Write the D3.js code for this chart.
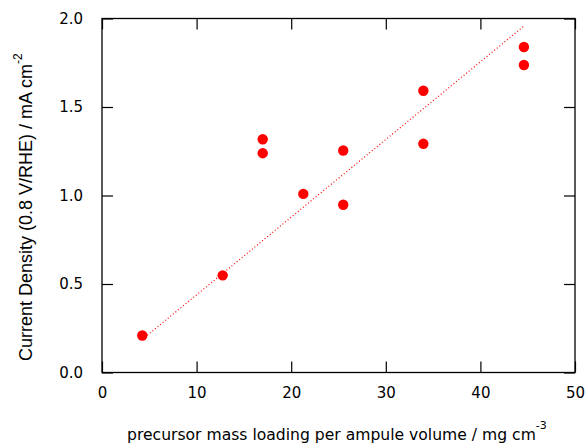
<!DOCTYPE html>
<html lang="en">
<head>
  <meta charset="utf-8">
  <title>Current density vs precursor loading</title>
  <script src="https://d3js.org/d3.v7.min.js"></script>
  <style>
    body { margin: 0; background: #fff; }
    .tick text { font-family: "DejaVu Sans", sans-serif; font-size: 15px; fill: #000; }
  </style>
</head>
<body>
  <div id="chart"></div>
  <script>
    // data
    var loading = [4.26, 12.76, 16.99, 16.99, 21.28, 25.5, 25.5, 33.97, 33.97, 44.6, 44.6];
    var density = [0.209, 0.549, 1.318, 1.239, 1.009, 1.254, 0.948, 1.592, 1.292, 1.839, 1.737];

    // linear fit, end points
    var fitX = [4.26, 44.6];
    var fitY = [0.187, 1.957];

    var xTicks = [0, 10, 20, 30, 40, 50];
    var yTicks = [0.0, 0.5, 1.0, 1.5, 2.0];

    var w = 588, h = 443;
    var margin = { top: 18.5, right: 13, bottom: 70.5, left: 102 };

    var svg = d3.select("#chart").append("svg")
      .attr("width", w)
      .attr("height", h);

    var x = d3.scaleLinear().domain([0, 50]).range([margin.left, w - margin.right]);
    var y = d3.scaleLinear().domain([0, 2]).range([h - margin.bottom, margin.top]);

    // axes, ticks pointing inward on all four sides
    svg.append("g")
      .attr("transform", "translate(0," + y(0) + ")")
      .call(d3.axisBottom(x).tickValues(xTicks).tickFormat(d3.format("d")).tickSizeInner(-11).tickSizeOuter(0).tickPadding(15))
      .call(g => g.select(".domain").remove());

    svg.append("g")
      .attr("transform", "translate(0," + y(2) + ")")
      .call(d3.axisTop(x).tickValues(xTicks).tickFormat("").tickSizeInner(-11).tickSizeOuter(0))
      .call(g => g.select(".domain").remove());

    svg.append("g")
      .attr("transform", "translate(" + x(0) + ",0)")
      .call(d3.axisLeft(y).tickValues(yTicks).tickFormat(d3.format(".1f")).tickSizeInner(-11).tickSizeOuter(0).tickPadding(19))
      .call(g => g.select(".domain").remove());

    svg.append("g")
      .attr("transform", "translate(" + x(50) + ",0)")
      .call(d3.axisRight(y).tickValues(yTicks).tickFormat("").tickSizeInner(-11).tickSizeOuter(0))
      .call(g => g.select(".domain").remove());

    svg.selectAll(".tick line").attr("stroke", "#000").attr("stroke-width", 1.2);

    // frame
    svg.append("rect")
      .attr("x", x(0))
      .attr("y", y(2))
      .attr("width", x(50) - x(0))
      .attr("height", y(0) - y(2))
      .attr("fill", "none")
      .attr("stroke", "#000")
      .attr("stroke-width", 1.3);

    // fit line
    svg.append("path")
      .datum(d3.zip(fitX, fitY))
      .attr("d", d3.line().x(d => x(d[0])).y(d => y(d[1])))
      .attr("fill", "none")
      .attr("stroke", "#ff0000")
      .attr("stroke-width", 1.2)
      .attr("stroke-dasharray", "1,2.3");

    // points
    svg.append("g")
      .selectAll("circle")
      .data(d3.zip(loading, density))
      .enter()
      .append("circle")
      .attr("cx", d => x(d[0]))
      .attr("cy", d => y(d[1]))
      .attr("r", 5.2)
      .attr("fill", "#ff0000");

    // axis labels
    var xl = svg.append("text")
      .attr("x", 127)
      .attr("y", 440)
      .style("font-family", "'DejaVu Sans', sans-serif")
      .style("font-size", "15.6px");
    xl.append("tspan").text("precursor mass loading per ampule volume / mg cm");
    xl.append("tspan").attr("dy", -11).style("font-size", "11px").text("-3");

    var yl = svg.append("text")
      .attr("transform", "translate(32,361) rotate(-90)")
      .style("font-family", "'Liberation Sans', Arial, sans-serif")
      .style("font-size", "18px");
    yl.append("tspan").text("Current Density (0.8 V/RHE) / mA cm");
    yl.append("tspan").attr("dy", -10).style("font-size", "12px").text("-2");
  </script>
</body>
</html>
